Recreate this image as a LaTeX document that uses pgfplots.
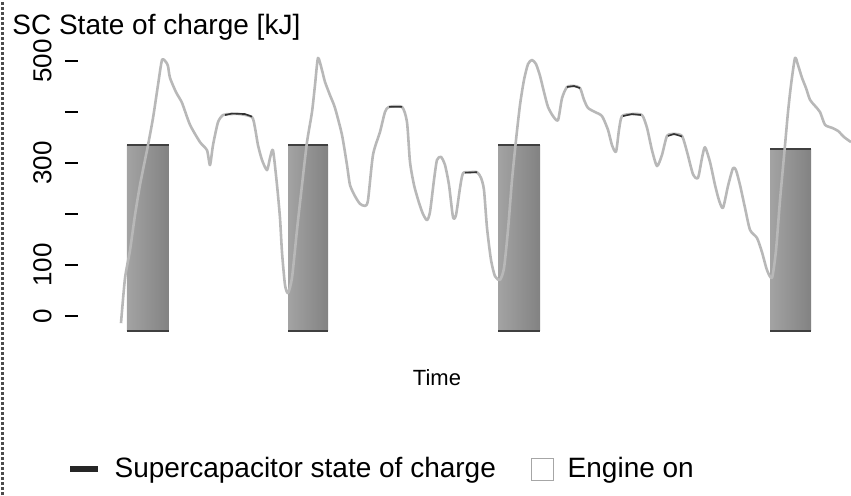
\documentclass[border=0pt]{standalone}
\usepackage{fontspec}
\setmainfont{Liberation Sans}
\usepackage{pgfplots}
\pgfplotsset{compat=1.18}

% supercapacitor state of charge (x = time index, y = kJ)
\pgfplotstableread{
t v
121 -14
125 74
130 129
135 198
140 257
145 306
148 335
153 388
158 453
162 502
166 498
168 490
170 467
176 439
182 418
190 375
200 341
207 325
210 296
213 335
218 380
223 394
230 396
240 396
252 390
255 369
258 335
262 306
267 286
270 310
273 325
277 257
280 192
282 125
285 61
288 45
292 75
297 169
302 257
307 341
312 400
315 453
318 506
322 482
325 459
330 433
335 408
342 355
347 296
350 257
355 235
360 220
365 216
368 227
373 316
380 361
385 400
389 410
402 410
407 380
410 302
414 257
419 222
423 200
427 188
430 204
434 267
437 306
441 312
445 296
449 257
453 194
456 198
460 251
463 280
470 282
477 282
481 271
484 247
487 173
491 110
495 78
500 71
504 94
508 169
512 267
516 345
520 414
524 463
528 494
532 502
536 494
540 471
544 439
548 410
553 392
558 384
562 427
567 449
574 451
580 447
584 424
588 408
595 400
602 392
608 365
612 335
616 322
619 365
622 392
632 396
642 394
647 369
652 325
657 294
662 316
667 353
674 357
682 353
687 322
693 278
698 271
702 310
705 331
710 302
715 257
719 227
723 212
728 255
733 290
736 286
740 257
745 212
750 169
757 153
762 125
767 90
772 75
776 129
780 227
785 335
788 400
791 453
795 506
798 492
802 467
806 447
810 424
815 412
820 400
825 375
832 369
838 363
844 351
851 341
}\soc

\begin{document}
\begin{tikzpicture}
\path[use as bounding box] (-57.5pt,-79.3pt) rectangle (368pt,168.2pt);
\begin{axis}[
  at={(0,0)}, anchor=south west,
  scale only axis,
  width=368pt, height=142.8pt,
  xmin=115, xmax=851,
  ymin=-40, ymax=520,
  axis lines*=left,
  axis line style={draw=none},
  xtick=\empty,
  ytick={0,100,200,300,400,500},
  yticklabels={0,100,,300,,500},
  tick align=outside,
  major tick length=6.5pt,
  ytick style={xshift=-18.5pt, black, line width=0.6pt},
  yticklabel style={rotate=90, anchor=south, inner sep=0pt,
    font=\fontsize{13}{15}\selectfont},
  yticklabel shift=25pt,
  /pgf/number format/assume math mode=true,
  xlabel={Time},
  xlabel style={at={(axis description cs:0.4375,0)}, anchor=north,
    yshift=-16.5pt, inner sep=0pt, font=\fontsize{11}{13}\selectfont},
  clip=false,
  legend columns=2,
  legend style={at={(axis description cs:-0.0652,-0.464)}, anchor=west,
    draw=none, fill=none, inner sep=0pt,
    font=\fontsize{14}{16}\selectfont,
    /tikz/every odd column/.append style={column sep=5pt},
    /tikz/every even column/.append style={column sep=15.5pt}},
]
% engine on
\addplot[draw=none, left color=black!36, right color=black!49, forget plot]
  coordinates {(127,-29) (127,335) (169,335) (169,-29)};
\addplot[draw=none, left color=black!36, right color=black!49, forget plot]
  coordinates {(288,-29) (288,335) (328,335) (328,-29)};
\addplot[draw=none, left color=black!36, right color=black!49, forget plot]
  coordinates {(498,-29) (498,335) (540,335) (540,-29)};
\addplot[draw=none, left color=black!36, right color=black!49, forget plot]
  coordinates {(770,-29) (770,327) (811,327) (811,-29)};
\addplot[black!75, line width=0.8pt, unbounded coords=jump, forget plot]
  coordinates {(127,335) (169,335) (169,nan) (127,-29) (169,-29) (169,nan)
    (288,335) (328,335) (328,nan) (288,-29) (328,-29) (328,nan)
    (498,335) (540,335) (540,nan) (498,-29) (540,-29) (540,nan)
    (770,327) (811,327) (811,nan) (770,-29) (811,-29)};
% state of charge
\addplot[black!28, line width=1.3pt, smooth, tension=0.4, line join=round, forget plot]
  table[x=t, y=v] {\soc};
% darker stretches of the scanned trace
\addplot[black!80, line width=0.8pt, unbounded coords=jump, forget plot]
  coordinates {(225,394) (232,397) (245,396) (252,391) (252,nan)
    (389,410) (402,410) (402,nan)
    (465,281) (477,282) (477,nan)
    (567,449) (574,451) (580,447) (580,nan)
    (623,392) (632,396) (641,394) (641,nan)
    (668,353) (674,357) (682,352)};
\addlegendimage{legend image code/.code={\draw[line width=2.6pt, black!85] (0pt,0pt) -- (14pt,0pt);}}
\addlegendentry{Supercapacitor state of charge}
\addlegendimage{legend image code/.code={\draw[black!35, fill=white] (0pt,-5.5pt) rectangle (11pt,5.5pt);}}
\addlegendentry{Engine on}
\end{axis}
\node[anchor=base west, inner sep=0pt, font=\fontsize{14}{16}\selectfont]
  at (-51.5pt,151.2pt) {SC State of charge [kJ]};
\draw[black!70, line width=1.5pt, densely dotted] (-56pt,-79.3pt) -- (-56pt,168.2pt);
\end{tikzpicture}
\end{document}
